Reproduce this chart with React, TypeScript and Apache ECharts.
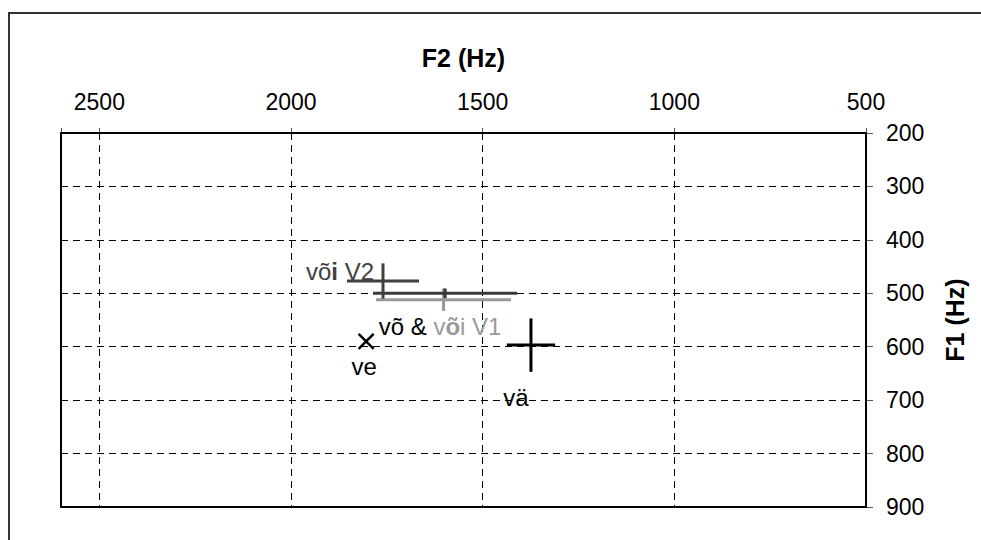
import React, { useEffect, useRef } from "react";
import * as echarts from "echarts";

// ---- data ----
const VOWELS = ["või V1", "võ", "või V2", "vä", "ve"];
const F2_MEAN = [1602, 1598, 1760, 1374, 1804];
const F1_MEAN = [512, 500, 477, 597, 590];
const F2_SD = [176, 188, 94, 63, 0];
const F1_SD = [21, 9, 33, 50, 0];

const F2_TICKS = [500, 1000, 1500, 2000, 2500];
const F1_TICKS = [200, 300, 400, 500, 600, 700, 800, 900];

// label text and which point it is attached to
const LABEL_ANCHOR = [3, 4, 1, 2];
const LABEL_TEXT = [
  "{k|vä}",
  "{k|ve}",
  "{k|võ & }{g|v}{gb|õ}{g|i V1}",
  "{d|võ}{db|i}{d| V2}",
];

// ---- styling ----
const FONT = "'Liberation Sans', Arial, sans-serif";
const MARK_COLOR = ["#999999", "#3a3a3a", "#404040", "#000000", "#000000"];
const MARK_KIND = ["cross", "cross", "cross", "cross", "x"];
const LABEL_OFFSET: [number, number, string][] = [
  [-15, 52, "center"],
  [-2, 25, "center"],
  [-5, 33, "center"],
  [-9, -9, "right"],
];

export default function App() {
  const ref = useRef<HTMLDivElement>(null);
  useEffect(() => {
    if (!ref.current) return;
    const chart = echarts.init(ref.current, undefined, { renderer: "svg" });
    const pts = VOWELS.map((_, i) => [F2_MEAN[i], F1_MEAN[i], F2_SD[i], F1_SD[i]]);
    const labelPts = LABEL_ANCHOR.map((i) => [F2_MEAN[i], F1_MEAN[i]]);
    const richStyles = {
      k: { fontSize: 24, fontFamily: FONT, fill: "#000" },
      g: { fontSize: 24, fontFamily: FONT, fill: "#9a9a9a" },
      gb: { fontSize: 24, fontFamily: FONT, fill: "#9a9a9a", fontWeight: "bold" },
      d: { fontSize: 24, fontFamily: FONT, fill: "#404040" },
      db: { fontSize: 24, fontFamily: FONT, fill: "#404040", fontWeight: "bold" },
    };
    chart.setOption({
      animation: false,
      backgroundColor: "#fff",
      grid: {
        left: 61,
        right: 115,
        top: 133,
        bottom: 33,
        show: true,
        borderColor: "#000",
        borderWidth: 2,
        backgroundColor: "transparent",
        z: 10,
      },
      graphic: [
        {
          type: "rect",
          silent: true,
          z: -10,
          shape: { x: 9, y: 13, width: 1200, height: 800 },
          style: { fill: "none", stroke: "#333", lineWidth: 2 },
        },
      ],
      xAxis: {
        type: "value",
        position: "top",
        inverse: true,
        min: 500,
        max: 2600,
        interval: 500,
        name: "F2 (Hz)",
        nameLocation: "middle",
        nameGap: 63,
        nameTextStyle: { fontSize: 25, fontWeight: "bold", color: "#000", fontFamily: FONT },
        axisLine: { show: false },
        axisTick: { show: true, length: 5, lineStyle: { color: "#555", width: 1 } },
        axisLabel: {
          fontSize: 23,
          color: "#000",
          fontFamily: FONT,
          margin: 20,
          formatter: (v: number) => (F2_TICKS.includes(v) ? String(v) : ""),
        },
        splitLine: { show: true, lineStyle: { color: "#000", width: 1, type: [7, 5] } },
      },
      yAxis: {
        type: "value",
        position: "right",
        inverse: true,
        min: 200,
        max: 900,
        interval: 100,
        name: "F1 (Hz)",
        nameLocation: "middle",
        nameRotate: 90,
        nameGap: 76,
        nameTextStyle: { fontSize: 25, fontWeight: "bold", color: "#000", fontFamily: FONT },
        axisLine: { show: false },
        axisTick: { show: true, length: 7, lineStyle: { color: "#555", width: 1 } },
        axisLabel: {
          fontSize: 23,
          color: "#000",
          fontFamily: FONT,
          margin: 20,
          formatter: (v: number) => (F1_TICKS.includes(v) ? String(v) : ""),
        },
        splitLine: { show: true, lineStyle: { color: "#000", width: 1, type: [7, 5] } },
      },
      series: [
        {
          type: "custom",
          name: "means",
          coordinateSystem: "cartesian2d",
          clip: false,
          z: 5,
          data: pts,
          renderItem: (params: any, api: any) => {
            const i = params.dataIndex;
            const f2 = api.value(0);
            const f1 = api.value(1);
            const e2 = api.value(2);
            const e1 = api.value(3);
            const color = MARK_COLOR[i];
            const c = api.coord([f2, f1]);
            if (MARK_KIND[i] === "x") {
              const h = 7.5;
              return {
                type: "group",
                children: [
                  { type: "line", shape: { x1: c[0] - h, y1: c[1] - h, x2: c[0] + h, y2: c[1] + h }, style: { stroke: color, lineWidth: 2.5 } },
                  { type: "line", shape: { x1: c[0] - h, y1: c[1] + h, x2: c[0] + h, y2: c[1] - h }, style: { stroke: color, lineWidth: 2.5 } },
                ],
              };
            }
            const l = api.coord([f2 + e2, f1]);
            const r = api.coord([f2 - e2, f1]);
            const t = api.coord([f2, f1 - e1]);
            const b = api.coord([f2, f1 + e1]);
            return {
              type: "group",
              children: [
                { type: "line", shape: { x1: l[0], y1: l[1], x2: r[0], y2: r[1] }, style: { stroke: color, lineWidth: 3 } },
                { type: "line", shape: { x1: t[0], y1: t[1], x2: b[0], y2: b[1] }, style: { stroke: color, lineWidth: 3 } },
              ],
            };
          },
        },
        {
          type: "custom",
          name: "labels",
          coordinateSystem: "cartesian2d",
          clip: false,
          z: 6,
          data: labelPts,
          renderItem: (params: any, api: any) => {
            const i = params.dataIndex;
            const c = api.coord([api.value(0), api.value(1)]);
            const [dx, dy, align] = LABEL_OFFSET[i];
            return {
              type: "text",
              x: c[0] + dx,
              y: c[1] + dy,
              style: {
                text: LABEL_TEXT[i],
                rich: richStyles,
                fontSize: 24,
                fontFamily: FONT,
                fill: "#000",
                align,
                verticalAlign: "middle",
              },
            };
          },
        },
      ],
    });
    return () => chart.dispose();
  }, []);
  return (
    <div
      ref={ref}
      style={{ position: "absolute", left: 0, top: 0, width: 981, height: 540 }}
    />
  );
}
